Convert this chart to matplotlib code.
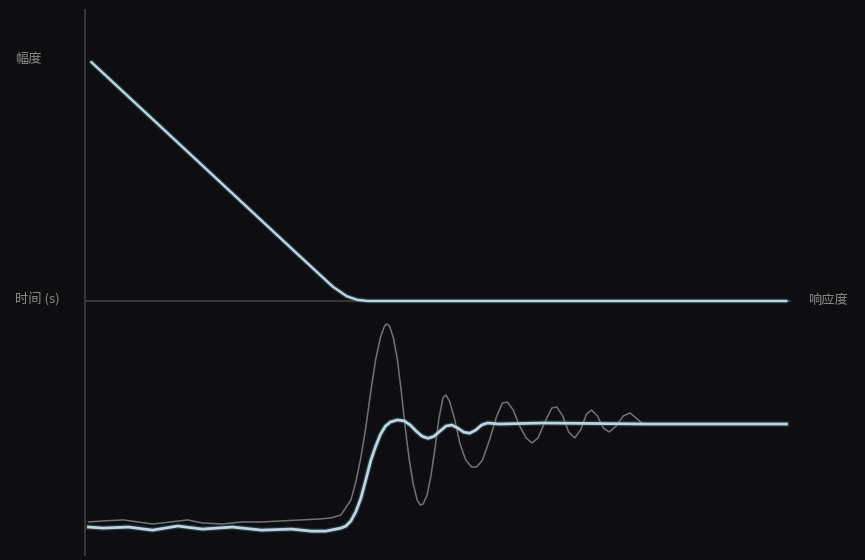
import matplotlib.pyplot as plt

plt.rcParams['font.family'] = ['Noto Sans CJK SC', 'DejaVu Sans']

# top panel: amplitude vs time
amp_t = [0.04, 1.0, 2.0, 3.0, 3.5, 3.7, 3.85, 4.0, 10.0]
amp_v = [1.0, 0.739, 0.467, 0.195, 0.06, 0.02, 0.005, 0.0, 0.0]

# bottom panel: oscillating response (thin grey)
osc_t = [0.0, 0.213, 0.496, 0.709, 0.922, 1.177, 1.418, 1.631, 1.915, 2.199,
         2.482, 2.766, 3.050, 3.333, 3.475,
         3.617, 3.759, 3.830, 3.901, 3.972, 4.043, 4.113, 4.184, 4.241, 4.270,
         4.312, 4.369, 4.426, 4.482, 4.539, 4.596, 4.652, 4.709, 4.752, 4.794,
         4.851, 4.908, 4.965, 5.021, 5.078, 5.121, 5.177, 5.248, 5.319, 5.404,
         5.489, 5.560, 5.645, 5.745, 5.844, 5.929, 6.000, 6.085, 6.170, 6.270,
         6.355, 6.440, 6.539, 6.638, 6.709, 6.794, 6.879, 6.965, 7.050, 7.135,
         7.206, 7.291, 7.376, 7.461, 7.560, 7.660, 7.759, 7.844, 7.943]
osc_v = [0.03, 0.04, 0.05, 0.03, 0.01, 0.03, 0.05, 0.02, 0.01, 0.03,
         0.03, 0.04, 0.05, 0.06, 0.07,
         0.098, 0.245, 0.422, 0.657, 0.951, 1.304, 1.618, 1.843, 1.951, 1.971,
         1.951, 1.833, 1.618, 1.304, 0.951, 0.637, 0.402, 0.245, 0.196, 0.206,
         0.294, 0.490, 0.755, 1.049, 1.245, 1.275, 1.206, 1.029, 0.804, 0.637,
         0.569, 0.569, 0.637, 0.833, 1.059, 1.196, 1.206, 1.127, 0.980, 0.853,
         0.804, 0.853, 1.010, 1.147, 1.157, 1.069, 0.912, 0.853, 0.931, 1.088,
         1.127, 1.069, 0.951, 0.912, 0.971, 1.069, 1.098, 1.049, 0.990]

# bottom panel: damped response (thick blue)
damp_t = [0.0, 0.21, 0.57, 0.92, 1.28, 1.63, 2.06, 2.48, 2.91, 3.19, 3.4,
          3.617, 3.688, 3.759, 3.830, 3.901, 3.972, 4.043, 4.113, 4.184, 4.255,
          4.326, 4.426, 4.525, 4.610, 4.695, 4.780, 4.865, 4.950, 5.035, 5.121,
          5.206, 5.291, 5.376, 5.461, 5.546, 5.631, 5.716, 5.887, 6.5, 8.0, 10.0]
damp_v = [-0.02, -0.03, -0.02, -0.05, -0.01, -0.04, -0.02, -0.05, -0.04, -0.06, -0.06,
          -0.03, -0.01, 0.04, 0.13, 0.26, 0.44, 0.63, 0.77, 0.89, 0.97,
          1.01, 1.03, 1.02, 0.98, 0.92, 0.87, 0.85, 0.87, 0.92, 0.97,
          0.98, 0.95, 0.91, 0.90, 0.93, 0.98, 1.0, 0.99, 1.0, 0.99, 0.99]

bg = '#0e0e11'
axis_col = '#36363a'
txt_col = '#8c8c8c'
line_col = '#bcd6e2'
glow_col = '#4a7386'

fig = plt.figure(figsize=(8.65, 5.6), dpi=100, facecolor=bg)
ax1 = fig.add_axes([85 / 865, 1 - 301 / 560, 705 / 865, 291 / 560])
ax2 = fig.add_axes([85 / 865, 1 - 555 / 560, 705 / 865, 254 / 560])

for ax in (ax1, ax2):
    ax.set_facecolor(bg)
    ax.patch.set_alpha(0)
    ax.set_xlim(-0.05, 10.05)
    ax.set_xticks([])
    ax.set_yticks([])
    for s in ax.spines.values():
        s.set_visible(False)
    ax.spines['left'].set_visible(True)
    ax.spines['left'].set_color(axis_col)
    ax.spines['left'].set_linewidth(1.5)

ax1.spines['bottom'].set_visible(True)
ax1.spines['bottom'].set_color(axis_col)
ax1.spines['bottom'].set_linewidth(1.5)
ax1.set_ylim(0, 1.218)
ax2.set_ylim(-0.294, 2.196)

# lines above the spines so the flat part shows on the axis
ax1.plot(amp_t, amp_v, color=glow_col, lw=3.4, alpha=0.45, clip_on=False,
         solid_capstyle='round', zorder=3)
ax1.plot(amp_t, amp_v, color=line_col, lw=1.7, clip_on=False,
         solid_capstyle='round', zorder=4)

ax2.plot(osc_t, osc_v, color='#7e7e80', lw=1.1, alpha=0.9, solid_joinstyle='round')
ax2.plot(damp_t, damp_v, color=glow_col, lw=3.8, alpha=0.4, solid_joinstyle='round')
ax2.plot(damp_t, damp_v, color=line_col, lw=2.0, solid_joinstyle='round')

fig.text(15 / 865, 1 - 60 / 560, '幅度', color=txt_col, fontsize=9.5, va='center')
fig.text(15 / 865, 1 - 300 / 560, '时间 (s)', color=txt_col, fontsize=9.5, va='center')
fig.text(808 / 865, 1 - 300 / 560, '响应度', color=txt_col, fontsize=9.5, va='center')

fig.savefig('out.png', dpi=100, facecolor=bg)
